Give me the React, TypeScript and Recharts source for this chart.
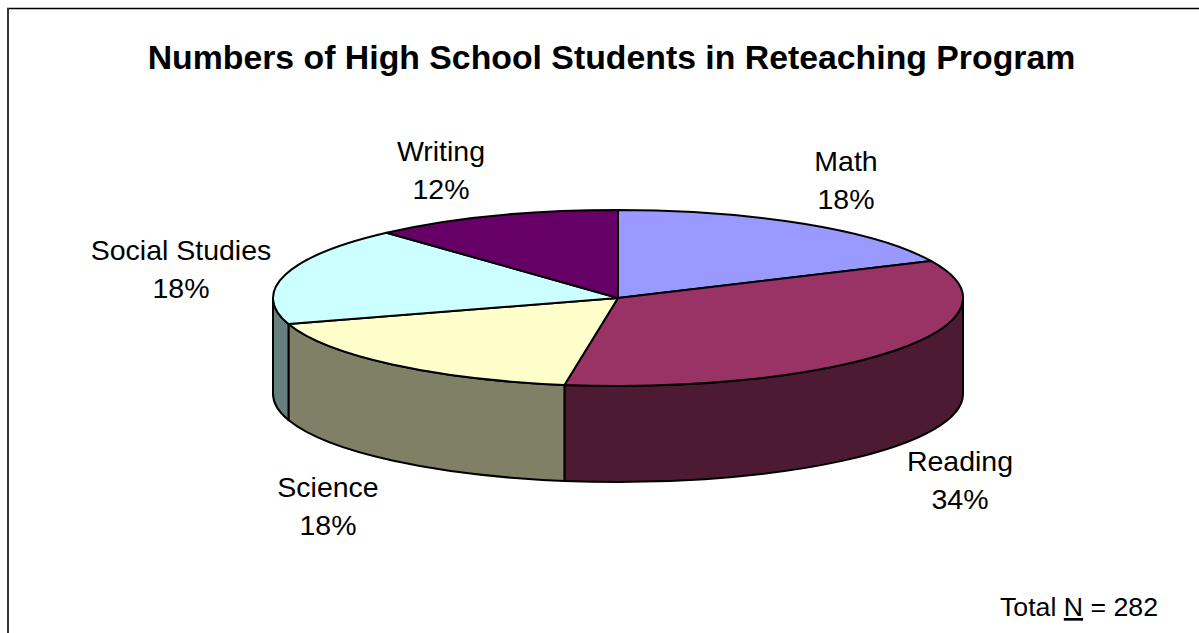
import React from "react";
import { PieChart, Pie, Cell, Customized } from "recharts";

const categories = ["Math", "Reading", "Science", "Social Studies", "Writing"];
const counts = [51, 97, 50, 51, 33];
const percents = ["18%", "34%", "18%", "18%", "12%"];
const topColors = ["#9999ff", "#993366", "#ffffcc", "#ccffff", "#660066"];
const wallColors = ["#4d4d80", "#4d1a33", "#808066", "#668080", "#330033"];

const W = 1199;
const H = 633;
const CX = 618;
const CY = 298;
const RX = 345;
const RY = 88;
const DEPTH = 96;
const FONT = '"Liberation Sans", Arial, sans-serif';

const rows = categories.map((name, i) => ({ name, value: counts[i], percent: percents[i] }));

const labelCentres: Record<string, [number, number]> = {
  Math: [846, 171],
  Reading: [960, 471],
  Science: [328, 497],
  "Social Studies": [181, 260],
  Writing: [441, 161],
};

const rad = (d: number) => (d * Math.PI) / 180;
const px = (cx: number, a: number, r: number) => cx + r * Math.cos(rad(a));
const py = (cy: number, a: number, r: number) => cy - r * (RY / RX) * Math.sin(rad(a));

function TopSlice(props: any) {
  const { cx, cy, outerRadius: r, startAngle: a0, endAngle: a1, fill } = props;
  const large = Math.abs(a1 - a0) > 180 ? 1 : 0;
  const ry = r * (RY / RX);
  const d = `M${cx},${cy}L${px(cx, a0, r)},${py(cy, a0, r)}A${r},${ry} 0 ${large} 1 ${px(cx, a1, r)},${py(cy, a1, r)}Z`;
  return <path d={d} fill={fill} stroke="#000" strokeWidth={2} strokeLinejoin="round" />;
}

function WallSlice(props: any) {
  const { cx, cy, outerRadius: r, startAngle, endAngle, fill } = props;
  // Angles run clockwise from startAngle down to endAngle; the visible wall is -180..0.
  const hi = Math.min(startAngle, 0);
  const lo = Math.max(endAngle, -180);
  if (hi <= lo) return <g />;
  const ry = r * (RY / RX);
  const x0 = px(cx, hi, r);
  const y0 = py(cy, hi, r);
  const x1 = px(cx, lo, r);
  const y1 = py(cy, lo, r);
  const d = `M${x0},${y0}A${r},${ry} 0 0 1 ${x1},${y1}L${x1},${y1 + DEPTH}A${r},${ry} 0 0 0 ${x0},${y0 + DEPTH}Z`;
  return <path d={d} fill={fill} stroke="#000" strokeWidth={2} strokeLinejoin="round" />;
}

function SliceLabel(props: any) {
  const { name, percent } = props.payload ?? props;
  const c = labelCentres[name];
  if (!c) return <g />;
  return (
    <text x={c[0]} textAnchor="middle" fontFamily={FONT} fontSize={28.5} fill="#000">
      <tspan x={c[0]} y={c[1]}>{name}</tspan>
      <tspan x={c[0]} y={c[1] + 38}>{percent}</tspan>
    </text>
  );
}

export default function App() {
  return (
    <div style={{ position: "absolute", left: 0, top: 0, width: W, height: H, overflow: "hidden", background: "#fff" }}>
      <PieChart width={W} height={H} margin={{ top: 0, right: 0, bottom: 0, left: 0 }}>
        <Customized
          component={() => (
            <g>
              <line x1={7} y1={8.5} x2={W} y2={8.5} stroke="#000" strokeWidth={1.5} />
              <line x1={8} y1={8} x2={8} y2={H} stroke="#333" strokeWidth={2} />
              <text x={611.5} y={69} textAnchor="middle" fontFamily={FONT} fontSize={33.8} fontWeight={700} fill="#000">
                Numbers of High School Students in Reteaching Program
              </text>
              <text x={1000} y={616} fontFamily={FONT} fontSize={26.7} fill="#000">
                Total <tspan textDecoration="underline">N</tspan> = 282
              </text>
            </g>
          )}
        />
        <Pie
          data={rows}
          dataKey="value"
          nameKey="name"
          cx={CX}
          cy={CY}
          outerRadius={RX}
          startAngle={90}
          endAngle={-270}
          paddingAngle={0}
          stroke="none"
          isAnimationActive={false}
          label={false}
          labelLine={false}
          shape={WallSlice}
          legendType="none"
        >
          {rows.map((r, i) => (
            <Cell key={r.name} fill={wallColors[i]} />
          ))}
        </Pie>
        <Pie
          data={rows}
          dataKey="value"
          nameKey="name"
          cx={CX}
          cy={CY}
          outerRadius={RX}
          startAngle={90}
          endAngle={-270}
          paddingAngle={0}
          stroke="none"
          isAnimationActive={false}
          label={SliceLabel}
          labelLine={false}
          shape={TopSlice}
          legendType="none"
        >
          {rows.map((r, i) => (
            <Cell key={r.name} fill={topColors[i]} />
          ))}
        </Pie>
      </PieChart>
    </div>
  );
}
